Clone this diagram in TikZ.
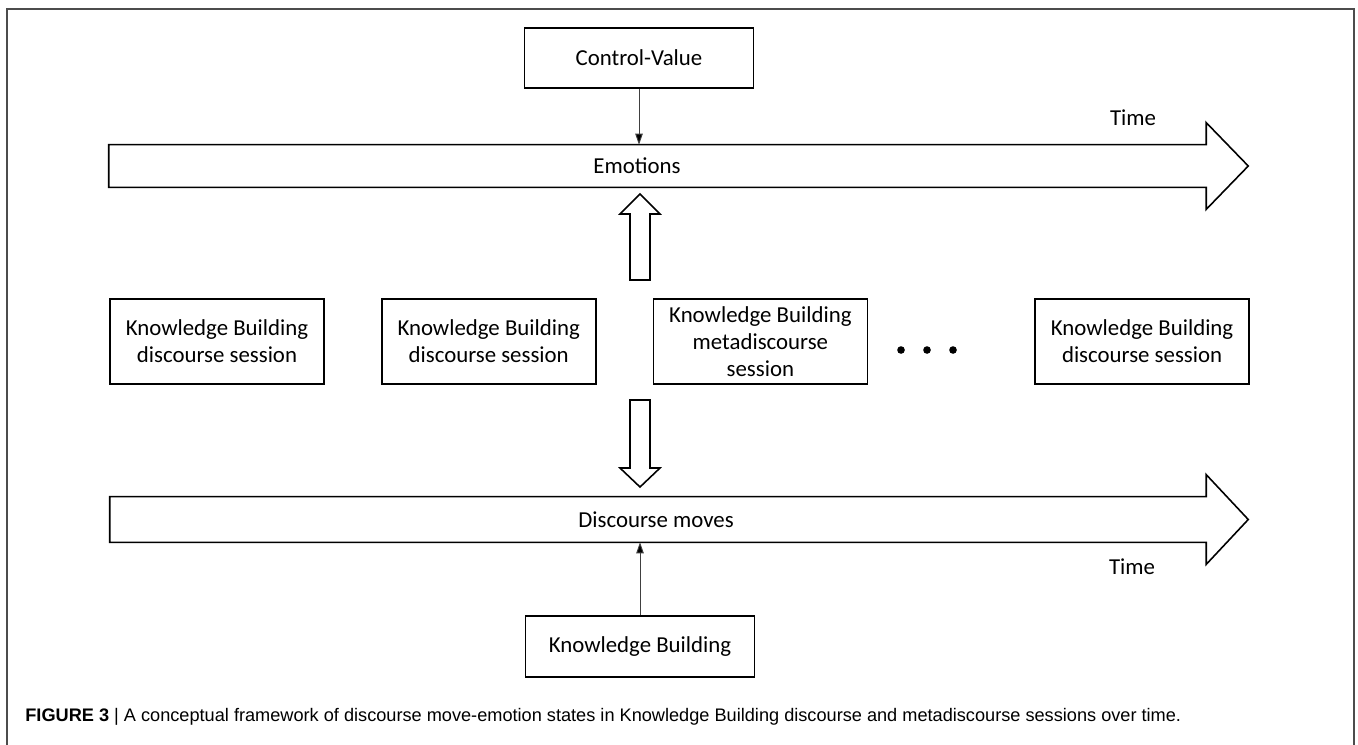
\documentclass[tikz,border=0pt]{standalone}
\usepackage{fontspec}
\setmainfont{Carlito}
\newfontfamily\capfont{Liberation Sans}
\usepackage{tikz}
\usetikzlibrary{positioning, calc, arrows.meta}
\tikzstyle{Box} = [rectangle, draw, line width=1pt, align=center, inner sep=2pt,
font=\fontsize{13}{15.5}\selectfont]
\tikzstyle{Label} = [font=\fontsize{13}{15.5}\selectfont]
\tikzstyle{Arrow} = [draw=black!75, line width=0.5pt,
-{Triangle[length=2.2mm, width=1.5mm, fill=black]}]
\tikzstyle{Block} = [draw, line width=0.9pt, line join=miter]

\begin{document}
\begin{tikzpicture}[x=0.02cm, y=-0.02cm, node distance=1.12cm]
    \useasboundingbox (0,0) rectangle (1358,744);
    \draw [black!70, line width=0.6pt] (7,746) -- (7,9) -- (1354,9) -- (1354,746);
    \node [Box, minimum width=4.58cm, minimum height=1.2cm] (1) at (639,58) {Control-Value};
    \node [minimum width=21.94cm, minimum height=0.84cm, inner sep=0] (2) at (657.5,166) {};
    \node [Box, minimum width=4.28cm, minimum height=1.7cm] (3) at (217,341.5) {Knowledge Building\\discourse session};
    \node [Box, minimum width=4.28cm, minimum height=1.7cm, right =of 3] (4) {Knowledge Building\\discourse session};
    \node [Box, minimum width=4.28cm, minimum height=1.7cm, right =of 4] (5) {Knowledge Building\\metadiscourse\\session};
    \coordinate (6) at (927,350);
    \node [Box, minimum width=4.28cm, minimum height=1.7cm, right =3.32cm of 5] (7) {Knowledge Building\\discourse session};
    \node [minimum width=21.92cm, minimum height=0.9cm, inner sep=0] (8) at (658,519.5) {};
    \node [Box, minimum width=4.58cm, minimum height=1.22cm] (9) at (640,646.5) {Knowledge Building};
    \node [Label] (10) at (637,166) {Emotions};
    \node [Label] (11) at (656,520) {Discourse moves};
    \node [Label] (12) at (1133,118) {Time};
    \node [Label] (13) at (1132,567) {Time};
    % time arrows
    \foreach \b in {2,8}
        \draw [Block] (\b.north west) -- (\b.north east) -- ++(0,-22)
            -- ($(\b.east)+(42,0)$) -- ($(\b.south east)+(0,22)$)
            -- (\b.south east) -- (\b.south west) -- cycle;
    % hollow arrows
    \draw [Block] (630,280) -- ++(0,-66) -- ++(-10,0) -- ++(20,-20) -- ++(20,20) -- ++(-10,0) -- ++(0,66) -- cycle;
    \draw [Block] (630,400) -- ++(0,68) -- ++(-10,0) -- ++(20,19) -- ++(20,-19) -- ++(-10,0) -- ++(0,-68) -- cycle;
    \foreach \i in {-1,0,1}
        \fill ($(6)+(\i*26,0)$) circle (3.8);
    \draw [Arrow] (1.south) -- (1.south |- 2.north);
    \draw [Arrow] (9.north) -- (9.north |- 8.south);
    \node [anchor=west, inner sep=0] (14) at (25,717) {\resizebox{23.12cm}{!}{\capfont\textbf{FIGURE 3} | A conceptual framework of discourse move-emotion states in Knowledge Building discourse and metadiscourse sessions over time.}};
\end{tikzpicture}
\end{document}
